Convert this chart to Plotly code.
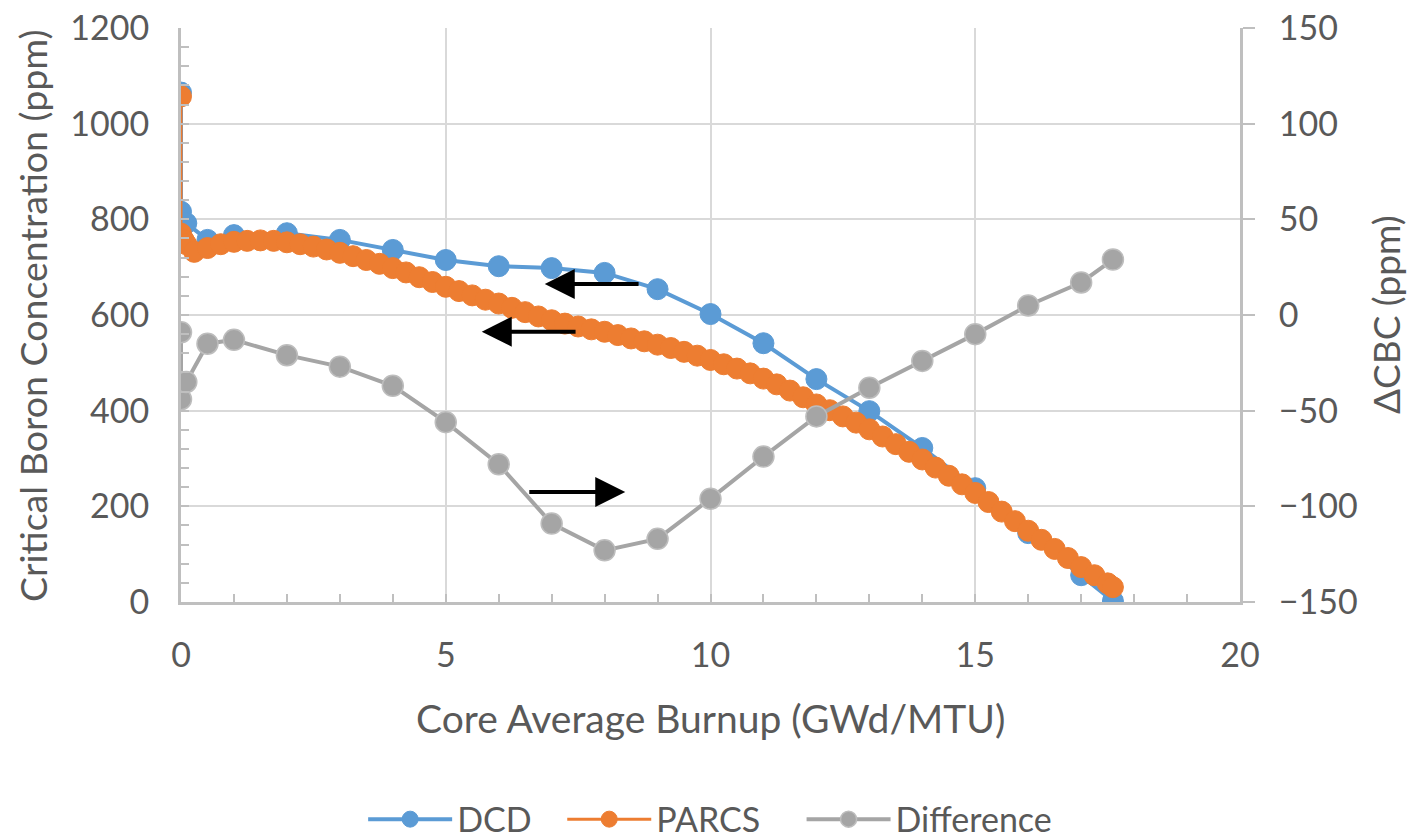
import plotly.graph_objects as go

# ---- data ----
dcd_x = [0, 0, 0.1, 0.5, 1, 2, 3, 4, 5, 6, 7, 8, 9, 10, 11, 12, 13, 14, 15, 16, 17, 17.6]
dcd_y = [1065, 816, 792, 757, 767, 771, 757, 736, 715, 702, 698, 688, 654, 602, 541, 466,
         399, 322, 238, 144, 56, 2]

parcs_x = [0, 0, 0.05, 0.1, 0.25, 0.5, 0.75, 1, 1.25, 1.5, 1.75, 2, 2.25, 2.5, 2.75, 3,
           3.25, 3.5, 3.75, 4, 4.25, 4.5, 4.75, 5, 5.25, 5.5, 5.75, 6, 6.25, 6.5, 6.75, 7,
           7.25, 7.5, 7.75, 8, 8.25, 8.5, 8.75, 9, 9.25, 9.5, 9.75, 10, 10.25, 10.5, 10.75,
           11, 11.25, 11.5, 11.75, 12, 12.25, 12.5, 12.75, 13, 13.25, 13.5, 13.75, 14, 14.25,
           14.5, 14.75, 15, 15.25, 15.5, 15.75, 16, 16.25, 16.5, 16.75, 17, 17.25, 17.5, 17.6]
parcs_y = [1057, 770, 757, 748, 732, 740, 748, 753, 755, 756, 755, 752, 748, 743, 737, 730,
           723, 715, 707, 698, 689, 679, 669, 659, 650, 641, 632, 624, 615, 606, 597, 589,
           582, 576, 570, 565, 558, 551, 545, 538, 531, 523, 515, 506, 497, 488, 478,
           467, 455, 442, 428, 413, 401, 388, 375, 361, 346, 330, 314, 298, 281,
           264, 246, 228, 209, 189, 169, 149, 130, 111, 92, 73, 56, 39, 31]

diff_x = [0, 0, 0.1, 0.5, 1, 2, 3, 4, 5, 6, 7, 8, 9, 10, 11, 12, 13, 14, 15, 16, 17, 17.6]
diff_y = [-9, -44, -35, -15, -13, -21, -27, -37, -56, -78, -109, -123, -117, -96, -74, -53,
          -38, -24, -10, 5, 17, 29]

x_title = "Core Average Burnup (GWd/MTU)"
y_title = "Critical Boron Concentration (ppm)"
y2_title = "ΔCBC (ppm)"

FONT = "Lato"
TXT = "#595959"
AX = "#bfbfbf"
GRID = "#d9d9d9"
TICK_SIZE = 34

fig = go.Figure()
fig.add_trace(go.Scatter(x=dcd_x, y=dcd_y, name="DCD", mode="lines+markers", legend="legend",
                         line=dict(color="#5B9BD5", width=4),
                         marker=dict(size=21, color="#5B9BD5", line=dict(color="#5B9BD5", width=1))))
fig.add_trace(go.Scatter(x=parcs_x, y=parcs_y, name="PARCS", mode="lines+markers", legend="legend2",
                         line=dict(color="#ED7D31", width=3),
                         marker=dict(size=21, color="#ED7D31", line=dict(color="#ED7D31", width=1))))
fig.add_trace(go.Scatter(x=diff_x, y=diff_y, name="Difference", mode="lines+markers",
                         yaxis="y2", legend="legend3",
                         line=dict(color="#A5A5A5", width=4),
                         marker=dict(size=21, color="#A5A5A5", line=dict(color="#BDBDBD", width=1.5))))

arrows = [
    dict(x=6.87, y=665, ax=8.67, ay=665),
    dict(x=5.68, y=565, ax=7.48, ay=565),
    dict(x=8.39, y=230, ax=6.55, ay=230),
]
annotations = []
for a in arrows:
    annotations.append(dict(x=a["x"], y=a["y"], ax=a["ax"], ay=a["ay"], xref="x", yref="y",
                            axref="x", ayref="y", showarrow=True, arrowhead=2, arrowsize=1.5,
                            arrowwidth=4, arrowcolor="black", text=""))
annotations += [
    dict(text=x_title, x=0.5, y=-0.202, xref="paper", yref="paper", showarrow=False,
         xanchor="center", yanchor="middle", font=dict(family=FONT, size=39, color=TXT)),
    dict(text=y_title, x=-0.1407, y=0.5, xref="paper", yref="paper", showarrow=False,
         textangle=-90, xanchor="center", yanchor="middle", font=dict(family=FONT, size=37.5, color=TXT)),
    dict(text=y2_title, x=1.137, y=0.5, xref="paper", yref="paper", showarrow=False,
         textangle=-90, xanchor="center", yanchor="middle", font=dict(family=FONT, size=37, color=TXT)),
]

def leg(xpos):
    return dict(orientation="h", x=xpos, xanchor="left", y=-0.379, yanchor="middle",
                font=dict(family=FONT, size=34, color=TXT), itemwidth=84,
                bgcolor="rgba(0,0,0,0)", borderwidth=0)

fig.update_layout(
    width=1412, height=839,
    margin=dict(l=181, r=172, t=28, b=237, autoexpand=False),
    paper_bgcolor="white", plot_bgcolor="white",
    font=dict(family=FONT, color=TXT),
    showlegend=True,
    legend=leg(0.172),
    legend2=leg(0.360),
    legend3=leg(0.586),
    xaxis=dict(range=[0, 20], dtick=5, tick0=0, showgrid=True, gridcolor=GRID, gridwidth=2,
               showline=True, linecolor=AX, linewidth=3, zeroline=False, automargin=False,
               ticks="inside", ticklen=8, tickwidth=2, tickcolor=AX, ticklabeloverflow="allow",
               minor=dict(dtick=1, ticks="inside", ticklen=8, tickwidth=2, tickcolor=AX, showgrid=False),
               tickfont=dict(family=FONT, size=TICK_SIZE, color=TXT), ticklabelstandoff=21),
    yaxis=dict(range=[0, 1200], dtick=200, showgrid=True, gridcolor=GRID, gridwidth=2,
               showline=True, linecolor=AX, linewidth=3, zeroline=False, automargin=False,
               ticks="inside", ticklen=8, tickwidth=2, tickcolor=AX, ticklabeloverflow="allow",
               minor=dict(dtick=40, ticks="inside", ticklen=8, tickwidth=2, tickcolor=AX, showgrid=False),
               tickfont=dict(family=FONT, size=TICK_SIZE, color=TXT), ticklabelstandoff=22),
    yaxis2=dict(range=[-150, 150], dtick=50, overlaying="y", side="right", showgrid=False,
                showline=True, linecolor=AX, linewidth=3, zeroline=False, automargin=False,
                ticks="outside", ticklen=12, tickwidth=2, tickcolor=AX, ticklabeloverflow="allow",
                tickfont=dict(family=FONT, size=TICK_SIZE, color=TXT), ticklabelstandoff=17),
    annotations=annotations,
)

# remove the default 8px page margin so the 1412x839 figure fills the window exactly
fig.write_html("out.html", config={"displayModeBar": False},
               post_script="document.body.style.margin='0px';document.body.style.overflow='hidden';")
